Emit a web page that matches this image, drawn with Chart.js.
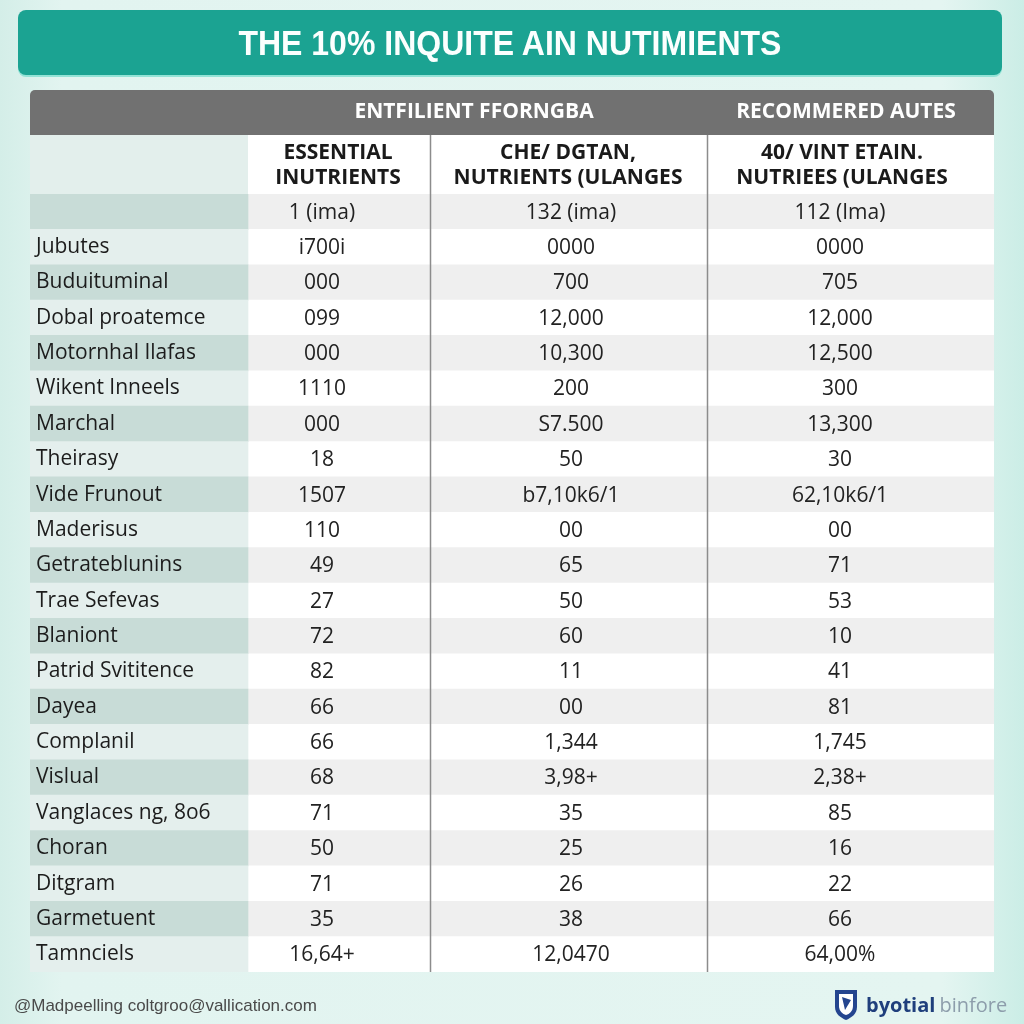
<!DOCTYPE html>
<html>
<head>
<meta charset="utf-8">
<script src="https://cdn.jsdelivr.net/npm/chart.js@4.4.1/dist/chart.umd.min.js"></script>
<style>
html,body{margin:0;padding:0;}
body{width:1024px;height:1024px;position:relative;overflow:hidden;
  background:linear-gradient(90deg,#d4eee8 0%,#e2f4f0 6%,#e4f5f1 92%,#cbede6 100%);
  font-family:"Open Sans",sans-serif;}
#chart{position:absolute;left:0;top:0;width:1024px;height:1024px;}
#banner{position:absolute;left:18px;top:10px;width:984px;height:65px;background:#1ba392;
  border-radius:8px;box-shadow:0 2px 0 #93e3d6;display:flex;align-items:center;justify-content:center;
  color:#fbfffe;font:bold 33px "Liberation Sans",Arial,sans-serif;}
#banner span{display:inline-block;transform:scale(0.97,1.05);}
#footLeft{position:absolute;left:14px;top:996px;font:17px "Liberation Sans",sans-serif;color:#4a4a4a;}
#brand{position:absolute;left:834px;top:987px;display:flex;align-items:center;height:34px;}
#brand .b1{font:bold 20px "Open Sans",sans-serif;color:#1f3f7c;margin-left:8px;}
#brand .b2{font:20px "Open Sans",sans-serif;color:#8d9dab;margin-left:4px;}
</style>
</head>
<body>
<canvas id="chart" width="1024" height="1024"></canvas>
<div id="banner"><span id="titleText"></span></div>
<div id="footLeft">@Madpeelling coltgroo@vallication.com</div>
<div id="brand">
  <svg width="24" height="33" viewBox="0 0 24 33"><path d="M1 2 H23 V19 C23 26 17 30 12 32 C7 30 1 26 1 19 Z" fill="#24458f"/><path d="M5 6 H19 V18 C19 23 15.5 26 12 27 C8.5 26 5 23 5 18 Z" fill="#ffffff"/><path d="M8 9 L17 12 L11 22 Z" fill="#24458f"/></svg>
  <span class="b1">byotial</span><span class="b2">binfore</span>
</div>
<script>
// ---- data ----
const title = "THE 10% INQUITE AIN NUTIMIENTS";
const groupHeaders = ["ENTFILIENT FFORNGBA", "RECOMMERED AUTES"];
const columnHeaders = [
  ["ESSENTIAL", "INUTRIENTS"],
  ["CHE/ DGTAN,", "NUTRIENTS (ULANGES"],
  ["40/ VINT ETAIN.", "NUTRIEES (ULANGES"]
];
const rowLabels = ["", "Jubutes", "Buduituminal", "Dobal proatemce", "Motornhal Ilafas", "Wikent Inneels",
  "Marchal", "Theirasy", "Vide Frunout", "Maderisus", "Getrateblunins", "Trae Sefevas", "Blaniont",
  "Patrid Svititence", "Dayea", "Complanil", "Vislual", "Vanglaces ng, 8o6", "Choran", "Ditgram",
  "Garmetuent", "Tamnciels"];
const essentialValues = ["1 (ima)", "i700i", "000", "099", "000", "1110", "000", "18", "1507", "110",
  "49", "27", "72", "82", "66", "66", "68", "71", "50", "71", "35", "16,64+"];
const changeValues = ["132 (ima)", "0000", "700", "12,000", "10,300", "200", "S7.500", "50", "b7,10k6/1",
  "00", "65", "50", "60", "11", "00", "1,344", "3,98+", "35", "25", "26", "38", "12,0470"];
const recommendedValues = ["112 (Ima)", "0000", "705", "12,000", "12,500", "300", "13,300", "30", "62,10k6/1",
  "00", "71", "53", "10", "41", "81", "1,745", "2,38+", "85", "16", "22", "66", "64,00%"];

document.getElementById('titleText').textContent = title;

// ---- layout (x-scale units) ----
const colEdges = [0, 218, 400, 677, 964];
const valueCenters = [292, 541, 810];
const headerCenters = [308, 538, 812];
const groupCenters = [444, 816];

const tablePlugin = {
  id: 'tableDecor',
  afterDatasetsDraw(chart) {
    const {ctx, chartArea, scales: {x, y}} = chart;
    const L = x.getPixelForValue(colEdges[0]);
    const R = x.getPixelForValue(colEdges[4]);
    const C1 = x.getPixelForValue(colEdges[1]);
    const top = chartArea.top;
    const subTop = top - 59, barTop = top - 104;
    ctx.save();
    // group header bar
    ctx.fillStyle = '#717171';
    ctx.beginPath();
    ctx.roundRect(L, barTop, R - L, subTop - barTop, [5, 5, 0, 0]);
    ctx.fill();
    // sub header background
    ctx.fillStyle = '#e3efec';
    ctx.fillRect(L, subTop, C1 - L, top - subTop);
    ctx.fillStyle = '#ffffff';
    ctx.fillRect(C1, subTop, R - C1, top - subTop);
    // group header text
    ctx.fillStyle = '#ffffff';
    ctx.font = 'bold 21px "Open Sans"';
    ctx.textAlign = 'center';
    ctx.textBaseline = 'middle';
    groupHeaders.forEach((t, i) => ctx.fillText(t, x.getPixelForValue(groupCenters[i]), barTop + 22));
    // column headers
    ctx.fillStyle = '#1a1a1a';
    ctx.font = 'bold 21px "Open Sans"';
    columnHeaders.forEach((lines, i) => {
      lines.forEach((t, j) => ctx.fillText(t, x.getPixelForValue(headerCenters[i]), subTop + 18 + j * 25));
    });
    // vertical separators
    ctx.strokeStyle = '#8c8c8c';
    ctx.lineWidth = 1.5;
    [colEdges[2], colEdges[3]].forEach(v => {
      const px = Math.round(x.getPixelForValue(v)) + 0.5;
      ctx.beginPath();
      ctx.moveTo(px, subTop);
      ctx.lineTo(px, chartArea.bottom);
      ctx.stroke();
    });
    // cell values
    ctx.font = '21px "Open Sans"';
    ctx.fillStyle = '#222222';
    [essentialValues, changeValues, recommendedValues].forEach((col, c) => {
      col.forEach((v, i) => ctx.fillText(v, x.getPixelForValue(valueCenters[c]), y.getPixelForValue(i) + 1));
    });
    ctx.restore();
  }
};

new Chart(document.getElementById('chart'), {
  type: 'bar',
  data: {
    labels: rowLabels,
    datasets: [
      {
        label: 'names',
        data: rowLabels.map(() => [colEdges[0], colEdges[1]]),
        backgroundColor: rowLabels.map((_, i) => i % 2 === 0 ? '#c8dcd7' : '#e4efed')
      },
      {
        label: 'values',
        data: rowLabels.map(() => [colEdges[1], colEdges[4]]),
        backgroundColor: rowLabels.map((_, i) => i % 2 === 0 ? '#efefef' : '#ffffff')
      }
    ]
  },
  options: {
    indexAxis: 'y',
    responsive: false,
    animation: false,
    layout: {padding: {left: 18, right: 30, top: 194, bottom: 52}},
    datasets: {bar: {barPercentage: 1, categoryPercentage: 1, grouped: false, borderWidth: 0, borderSkipped: false}},
    plugins: {legend: {display: false}, tooltip: {enabled: false}, title: {display: false}},
    scales: {
      x: {type: 'linear', min: colEdges[0], max: colEdges[4], display: false},
      y: {
        type: 'category',
        grid: {display: false, drawTicks: false},
        border: {display: false},
        ticks: {mirror: true, padding: 6, z: 1, color: '#1c1c1c', autoSkip: false,
          font: {family: 'Open Sans', size: 21}}
      }
    }
  },
  plugins: [tablePlugin]
});
</script>
</body>
</html>
